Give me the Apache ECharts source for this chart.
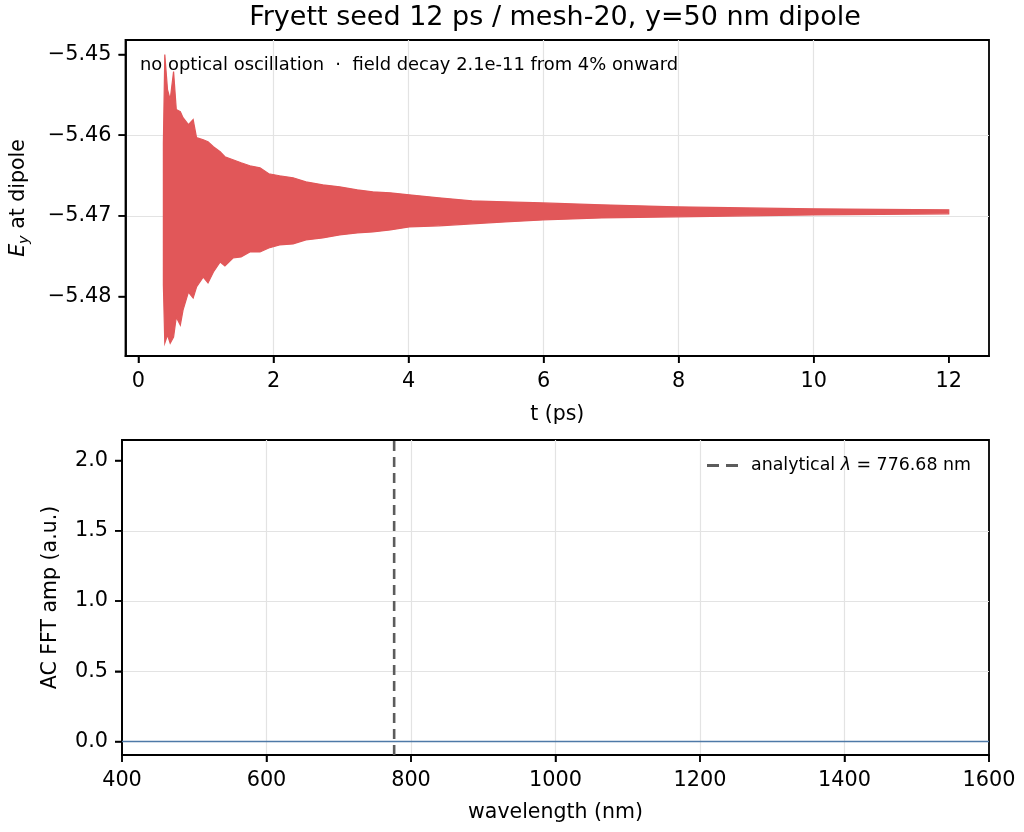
<!DOCTYPE html>
<html>
<head>
<meta charset="utf-8">
<script src="https://cdn.jsdelivr.net/npm/echarts@6/dist/echarts.min.js"></script>
<style>
  html, body { margin: 0; padding: 0; background: #fff; }
  #chart { width: 1024px; height: 832px; }
</style>
</head>
<body>
<div id="chart"></div>
<script>
// ---- Top panel: E_y at dipole envelope ----
const tEnv = [0.369, 0.39, 0.43, 0.47, 0.52, 0.56, 0.62, 0.66, 0.74, 0.81, 0.86, 0.96, 1.03, 1.11, 1.21, 1.28, 1.40, 1.52, 1.65, 1.80, 1.93, 2.09, 2.29, 2.48, 2.73, 2.98, 3.24, 3.47, 3.73, 4.01, 4.45, 4.94, 5.43, 5.99, 6.86, 7.96, 9.00, 10.0, 10.99, 12.0];
const eyUpper = [-5.46093, -5.45000, -5.45435, -5.45559, -5.45211, -5.45683, -5.45708, -5.45783, -5.45870, -5.45807, -5.46031, -5.46056, -5.46081, -5.46143, -5.46205, -5.46267, -5.46304, -5.46342, -5.46379, -5.46404, -5.46478, -5.46503, -5.46528, -5.46578, -5.46615, -5.46640, -5.46677, -5.46702, -5.46714, -5.46739, -5.46776, -5.46814, -5.46826, -5.46839, -5.46863, -5.46888, -5.46901, -5.46913, -5.46919, -5.46925];
const eyLower = [-5.47857, -5.48578, -5.48478, -5.48578, -5.48503, -5.48255, -5.48354, -5.48168, -5.47944, -5.48019, -5.47882, -5.47758, -5.47832, -5.47696, -5.47571, -5.47621, -5.47522, -5.47509, -5.47447, -5.47447, -5.47398, -5.47360, -5.47348, -5.47298, -5.47273, -5.47236, -5.47211, -5.47199, -5.47174, -5.47137, -5.47124, -5.47099, -5.47075, -5.47050, -5.47025, -5.47012, -5.47000, -5.46988, -5.46981, -5.46975];
const tTicks = [0, 2, 4, 6, 8, 10, 12];
const eyTicks = [-5.48, -5.47, -5.46, -5.45];

// ---- Bottom panel: AC FFT amplitude ----
const wavelengths = [400, 600, 800, 1000, 1200, 1400, 1600];
const fftAmp = [0, 0, 0, 0, 0, 0, 0];
const analyticalLambda = 776.68;
const wlTicks = [400, 600, 800, 1000, 1200, 1400, 1600];
const ampTicks = [0, 0.5, 1.0, 1.5, 2.0];

// axis extents
const T_MIN = -0.192, T_MAX = 12.596;
const EY_MIN = -5.48737, EY_MAX = -5.44820;
const WL_MIN = 400, WL_MAX = 1600;
const AMP_MIN = -0.096, AMP_MAX = 2.146;

const FONT = 'DejaVu Sans';
const TICK_FS = 20.8;
const NAME_FS = 20.5;
const TICK_LEN = 7;
const chart = echarts.init(document.getElementById('chart'), null, { renderer: 'canvas' });

const minusFmt = v => (v < 0 ? '\u2212' : '') + Math.abs(v).toFixed(2);

const tickStyle = { show: true, inside: false, length: TICK_LEN, lineStyle: { color: '#000', width: 1.5 } };
const axisCommon = {
  axisLine: { show: true, onZero: false, lineStyle: { color: '#000', width: 1.8 } },
  axisTick: tickStyle,
  axisLabel: { color: '#000', fontFamily: FONT, fontSize: TICK_FS, margin: 14 },
  splitLine: { show: true, showMinLine: false, showMaxLine: false, lineStyle: { color: '#e3e3e3', width: 1.2 } },
  nameLocation: 'middle',
  nameTextStyle: { color: '#000', fontFamily: FONT, fontSize: NAME_FS }
};

// outward tick marks drawn through the axes' own scales
function tickSeries(xIdx, yIdx, values, vertical, fixedVal) {
  return {
    type: 'custom', silent: true, clip: false, z: 6,
    xAxisIndex: xIdx, yAxisIndex: yIdx,
    data: values.map(v => vertical ? [fixedVal, v] : [v, fixedVal]),
    encode: { x: 0, y: 1 },
    renderItem: function (params, api) {
      const p = api.coord([api.value(0), api.value(1)]);
      const shape = vertical
        ? { x1: p[0] - TICK_LEN, y1: p[1], x2: p[0], y2: p[1] }
        : { x1: p[0], y1: p[1], x2: p[0], y2: p[1] + TICK_LEN };
      return { type: 'line', shape: shape, style: { stroke: '#000', lineWidth: 1.5 } };
    }
  };
}

const option = {
  backgroundColor: '#fff',
  animation: false,
  graphic: [
    { type: 'text', x: 555, y: 18, style: { text: 'Fryett seed 12 ps / mesh-20, y=50 nm dipole', font: '27px "DejaVu Sans"', fill: '#000', textAlign: 'center', textVerticalAlign: 'middle' } },
    { type: 'text', x: 140, y: 65, z: 10, style: { text: 'no optical oscillation  \u00b7  field decay 2.1e-11 from 4% onward', font: '17.9px "DejaVu Sans"', fill: '#000', textAlign: 'left', textVerticalAlign: 'middle' } }
  ],
  grid: [
    { left: 122, top: 40, width: 867, height: 316, show: true, borderColor: '#000', borderWidth: 1.8, backgroundColor: 'transparent' },
    { left: 122, top: 440, width: 867, height: 315, show: true, borderColor: '#000', borderWidth: 1.8, backgroundColor: 'transparent' }
  ],
  legend: {
    left: 702, top: 452,
    itemWidth: 31, itemHeight: 3, itemGap: 10,
    data: [{ name: 'analytical', icon: 'path://M0,0 L12,0 L12,3 L0,3 Z M19,0 L31,0 L31,3 L19,3 Z' }],
    itemStyle: { color: '#5c5c5c' },
    formatter: () => 'analytical {i|\u03bb} = 776.68 nm',
    textStyle: { color: '#000', fontFamily: FONT, fontSize: 17.4, padding: [0, 0, 0, 8], rich: { i: { fontStyle: 'italic', fontFamily: FONT, fontSize: 17.4, color: '#000' } } }
  },
  xAxis: [
    Object.assign({}, axisCommon, {
      gridIndex: 0, type: 'value', position: 'bottom', min: T_MIN, max: T_MAX,
      axisTick: Object.assign({}, tickStyle, { customValues: tTicks }),
      axisLabel: Object.assign({}, axisCommon.axisLabel, { customValues: tTicks, margin: 15, formatter: v => String(Math.round(v)) }),
      name: 't (ps)', nameGap: 48
    }),
    Object.assign({}, axisCommon, {
      gridIndex: 1, type: 'value', position: 'bottom', min: WL_MIN, max: WL_MAX, interval: 200,
      axisTick: Object.assign({}, tickStyle, { customValues: wlTicks }),
      axisLabel: Object.assign({}, axisCommon.axisLabel, { customValues: wlTicks, margin: 15, formatter: v => String(v) }),
      name: 'wavelength (nm)', nameGap: 47
    })
  ],
  yAxis: [
    Object.assign({}, axisCommon, {
      gridIndex: 0, type: 'value', position: 'left', min: EY_MIN, max: EY_MAX,
      axisTick: Object.assign({}, tickStyle, { customValues: eyTicks }),
      axisLabel: Object.assign({}, axisCommon.axisLabel, { customValues: eyTicks, formatter: minusFmt }),
      name: '{i|E}{s|y} at dipole', nameGap: 94, nameRotate: 90,
      nameTextStyle: Object.assign({}, axisCommon.nameTextStyle, {
        rich: {
          i: { fontStyle: 'italic', fontFamily: FONT, fontSize: NAME_FS, color: '#000', lineHeight: 26 },
          s: { fontStyle: 'italic', fontFamily: FONT, fontSize: 14.5, color: '#000', lineHeight: 15, verticalAlign: 'bottom', padding: [6, 0, 0, 0] }
        }
      })
    }),
    Object.assign({}, axisCommon, {
      gridIndex: 1, type: 'value', position: 'left', min: AMP_MIN, max: AMP_MAX,
      axisTick: Object.assign({}, tickStyle, { customValues: ampTicks }),
      axisLabel: Object.assign({}, axisCommon.axisLabel, { customValues: ampTicks, formatter: v => v.toFixed(1) }),
      name: 'AC FFT amp (a.u.)', nameGap: 61, nameRotate: 90
    })
  ],
  series: [
    {
      type: 'custom',
      name: 'Ey',
      xAxisIndex: 0, yAxisIndex: 0,
      clip: true,
      data: tEnv.map((t, i) => [t, eyUpper[i], eyLower[i]]),
      encode: { x: 0, y: [1, 2] },
      renderItem: function (params, api) {
        if (params.dataIndex !== 0) return null;
        const pts = [];
        for (let i = 0; i < tEnv.length; i++) pts.push(api.coord([tEnv[i], eyUpper[i]]));
        for (let i = tEnv.length - 1; i >= 0; i--) pts.push(api.coord([tEnv[i], eyLower[i]]));
        return { type: 'polygon', shape: { points: pts }, style: { fill: '#e15759', stroke: '#e15759', lineWidth: 1.2, lineJoin: 'miter' } };
      }
    },
    {
      type: 'line',
      name: 'fft',
      xAxisIndex: 1, yAxisIndex: 1,
      data: wavelengths.map((w, i) => [w, fftAmp[i]]),
      symbol: 'none',
      lineStyle: { color: '#4e79a7', width: 1.6 },
      z: 3
    },
    {
      type: 'line',
      name: 'analytical',
      xAxisIndex: 1, yAxisIndex: 1,
      data: [[analyticalLambda, AMP_MIN], [analyticalLambda, AMP_MAX]],
      symbol: 'none',
      lineStyle: { color: '#5c5c5c', width: 2.6, type: [10, 6] },
      itemStyle: { color: '#5c5c5c' },
      z: 4
    },
    tickSeries(0, 0, eyTicks, true, T_MIN),
    tickSeries(0, 0, tTicks, false, EY_MIN),
    tickSeries(1, 1, ampTicks, true, WL_MIN),
    tickSeries(1, 1, wlTicks, false, AMP_MIN)
  ]
};
chart.setOption(option);
</script>
</body>
</html>
